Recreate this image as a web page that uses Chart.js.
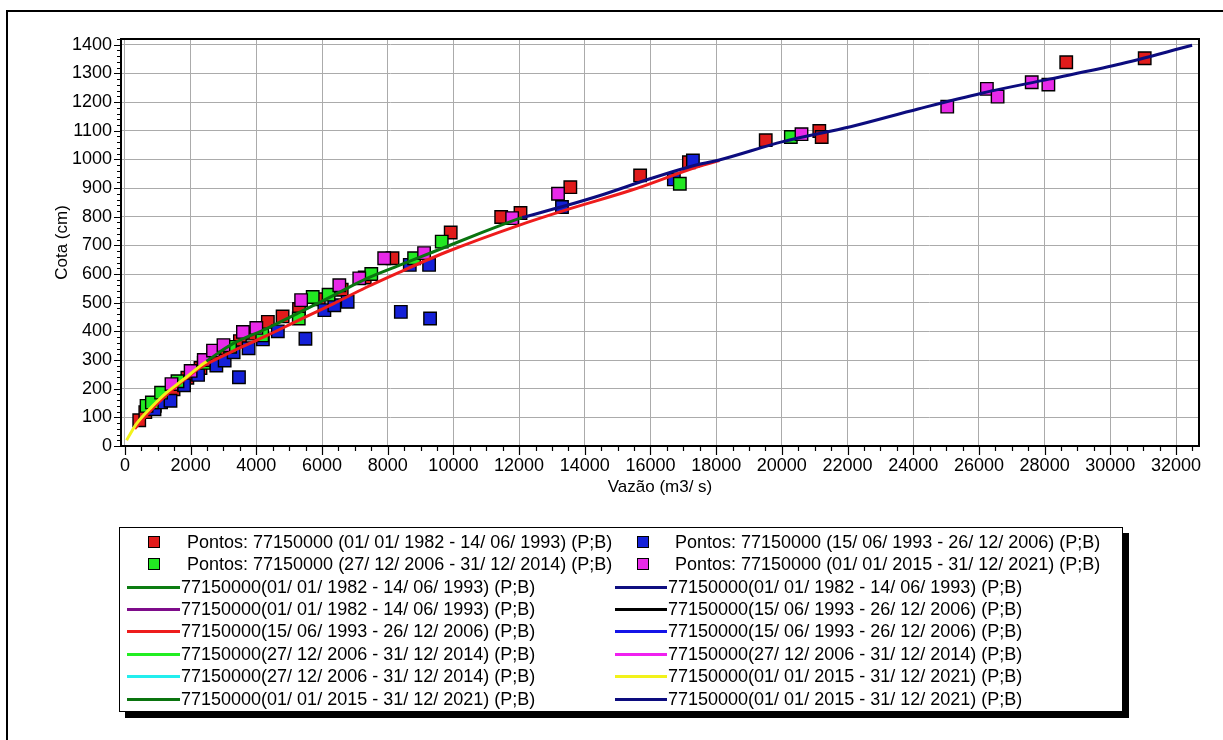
<!DOCTYPE html>
<html lang="pt">
<head>
    <meta charset="UTF-8">
    <meta name="viewport" content="width=device-width, initial-scale=1.0">
    <title>Curva-chave 77150000</title>
    <style>
        html, body { margin: 0; padding: 0; background: #fff; }
        body {
            width: 1223px; height: 740px; position: relative; overflow: hidden;
            font-family: "Liberation Sans", Arial, sans-serif;
        }
        #frame {
            position: absolute; left: 6px; top: 10px; width: 1224px; height: 760px;
            border: 2px solid #000; box-sizing: border-box;
        }
        #chartBox { position: absolute; left: 0; top: 0; width: 1223px; height: 740px; }
        #legend {
            position: absolute; left: 119px; top: 527px; width: 1004px; height: 185px;
            border: 1px solid #000; box-sizing: border-box; background: #fff;
            box-shadow: 6px 6px 0 0 #000;
        }
        .item { position: absolute; height: 20px; }
        .txt { position: absolute; top: 0; font-size: 18px; line-height: 20px; white-space: pre; color: #000; }
        .sq { position: absolute; top: 4px; width: 10px; height: 10px; border: 1px solid #000; box-sizing: content-box; }
        .ln { position: absolute; top: 9px; height: 3px; }
    </style>
</head>
<body>

    <div id="frame"></div>
    <div id="chartBox">
        <canvas id="myChart"></canvas>
    </div>
    <div id="legend"></div>

    <script src="https://cdn.jsdelivr.net/npm/chart.js@4.4.1/dist/chart.umd.min.js"></script>

    <script>

        // tick labels
        var xTicks = [0, 2000, 4000, 6000, 8000, 10000, 12000, 14000, 16000, 18000, 20000,
                      22000, 24000, 26000, 28000, 30000, 32000];
        var yTicks = [0, 100, 200, 300, 400, 500, 600, 700, 800, 900, 1000, 1100, 1200, 1300, 1400];
        var xMinorStep = 500;
        var yMinorStep = 20;

        // medições [vazão, cota]
        var pontos1982 = [[435,90],[620,118],[911,140],[1150,172],[1480,198],[1900,238],[2300,272],
            [2700,306],[3100,336],[3500,366],[3900,392],[4351,433],[4800,452],[5300,478],[5900,512],
            [6600,545],[7300,588],[8146,655],[9918,745],[11455,799],[12043,813],[13560,903],
            [15685,944],[17170,990],[19509,1067],[21140,1099],[21213,1078],[28658,1339],[31047,1353]];
        var pontos1993 = [[900,128],[1100,152],[1387,158],[1800,212],[2226,248],[2783,281],[3036,298],
            [3309,327],[3471,240],[3765,341],[4200,372],[4655,400],[5495,374],[6072,474],[6375,491],
            [6780,503],[8400,468],[8672,632],[9260,632],[9290,445],[13306,834],[16712,930],[17292,996]];
        var pontos2006 = [[658,140],[820,152],[1100,186],[1600,226],[2400,290],[3200,346],[4180,386],
            [5292,445],[5717,520],[6200,528],[7500,600],[8804,655],[9645,713],[16894,915],[20273,1078]];
        var pontos2015 = [[1417,216],[2000,262],[2400,300],[2681,333],[3000,352],[3592,398],[4000,412],
            [5364,509],[6527,561],[7134,585],[7893,655],[9107,673],[11788,795],[13185,880],[20598,1088],
            [25035,1184],[26242,1246],[26568,1219],[27607,1269],[28114,1261]];

        // curvas-chave [vazão, cota]
        var curva1993b = [[300,60],[800,126],[1300,182],[1800,230],[2277,272],[3288,331],[4300,384],
            [5313,440],[6324,495],[7337,553],[8349,606],[9766,676],[11991,770],[13409,823],
            [15432,893],[17456,975],[18100,996]];
        var curva2015a = [[50,20],[200,50],[355,78],[550,105],[760,130],[1000,158],[1266,186],
            [1500,207],[1800,234],[2000,252],[2277,278],[2500,296]];
        var curva2015b = [[2479,296],[3288,357],[4300,409],[5313,466],[6324,524],[7337,583],
            [8349,630],[9360,676],[10878,745],[11991,793],[12093,797]];
        var curva2015c = [[12093,797],[13409,838],[14464,874],[16038,934],[17456,982],[18094,998],
            [20031,1062],[22089,1114],[24147,1176],[26084,1231],[28140,1280],[30198,1330],[32490,1398]];

        function xy(arr) {
            return arr.map(function (p) { return { x: p[0], y: p[1] }; });
        }

        function pts(label, color, data) {
            return {
                label: label, data: xy(data), kind: 'point',
                pointStyle: 'rect', pointRadius: 8.8, pointHoverRadius: 8.8,
                backgroundColor: color, borderColor: '#000', borderWidth: 1.4, showLine: false
            };
        }

        function line(label, color, data) {
            return {
                label: label, data: xy(data), kind: 'line',
                showLine: true, borderColor: color, backgroundColor: color, borderWidth: 3,
                pointRadius: 0, cubicInterpolationMode: 'monotone'
            };
        }

        var datasets = [
            pts('Pontos: 77150000 (01/ 01/ 1982 - 14/ 06/ 1993) (P;B)', '#e01b1b', pontos1982),
            pts('Pontos: 77150000 (15/ 06/ 1993 - 26/ 12/ 2006) (P;B)', '#1420d8', pontos1993),
            pts('Pontos: 77150000 (27/ 12/ 2006 - 31/ 12/ 2014) (P;B)', '#22e822', pontos2006),
            pts('Pontos: 77150000 (01/ 01/ 2015 - 31/ 12/ 2021) (P;B)', '#e82ae8', pontos2015),
            line('77150000(01/ 01/ 1982 - 14/ 06/ 1993) (P;B)', '#0c7c12', []),
            line('77150000(01/ 01/ 1982 - 14/ 06/ 1993) (P;B)', '#0e0e80', []),
            line('77150000(01/ 01/ 1982 - 14/ 06/ 1993) (P;B)', '#7e0c8a', []),
            line('77150000(15/ 06/ 1993 - 26/ 12/ 2006) (P;B)', '#000000', []),
            line('77150000(15/ 06/ 1993 - 26/ 12/ 2006) (P;B)', '#ee1c1c', curva1993b),
            line('77150000(15/ 06/ 1993 - 26/ 12/ 2006) (P;B)', '#1414e8', []),
            line('77150000(27/ 12/ 2006 - 31/ 12/ 2014) (P;B)', '#22ee22', []),
            line('77150000(27/ 12/ 2006 - 31/ 12/ 2014) (P;B)', '#f020f0', []),
            line('77150000(27/ 12/ 2006 - 31/ 12/ 2014) (P;B)', '#22eeee', []),
            line('77150000(01/ 01/ 2015 - 31/ 12/ 2021) (P;B)', '#f2f21a', curva2015a),
            line('77150000(01/ 01/ 2015 - 31/ 12/ 2021) (P;B)', '#0a740f', curva2015b),
            line('77150000(01/ 01/ 2015 - 31/ 12/ 2021) (P;B)', '#0c0c7e', curva2015c)
        ];
        // later datasets on top
        datasets.forEach(function (ds, i) { ds.order = datasets.length - i; });

        // frame of the plot and minor / major tick marks
        var axisPlugin = {
            id: 'axisPlugin',
            afterDraw: function (chart) {
                var ctx = chart.ctx, a = chart.chartArea;
                var x = chart.scales.x, y = chart.scales.y;
                ctx.save();
                ctx.strokeStyle = '#000';
                ctx.lineWidth = 1.2;
                ctx.beginPath();
                for (var v = 0; v <= x.max; v += xMinorStep) {
                    var px = Math.round(x.getPixelForValue(v)) + 0.5;
                    var len = (v % 2000 === 0) ? 9 : 5;
                    ctx.moveTo(px, a.bottom);
                    ctx.lineTo(px, a.bottom + len);
                }
                for (var w = 0; w <= y.max; w += yMinorStep) {
                    var py = Math.round(y.getPixelForValue(w)) + 0.5;
                    var l2 = (w % 100 === 0) ? 7 : 4;
                    ctx.moveTo(a.left - l2, py);
                    ctx.lineTo(a.left, py);
                }
                ctx.stroke();
                ctx.lineWidth = 2;
                ctx.strokeRect(a.left, a.top, a.right - a.left, a.bottom - a.top);
                ctx.restore();
            }
        };

        function plain(value) { return String(value); }

        Chart.defaults.font.family = '"Liberation Sans", Arial, sans-serif';
        Chart.defaults.color = '#000';

        var ctx = document.getElementById("myChart").getContext("2d");
        var myChart = new Chart(ctx,
        {
            type: 'scatter',
            data: { datasets: datasets },
            options: {
                responsive: true,
                maintainAspectRatio: false,
                animation: false,
                layout: { padding: { left: 7, top: 39, right: 24, bottom: 234 } },
                plugins: {
                    legend: { display: false },
                    tooltip: { enabled: false }
                },
                scales: {
                    x: {
                        type: 'linear', min: -120, max: 32700,
                        afterFit: function (s) { s.height = 60; },
                        afterBuildTicks: function (s) { s.ticks = xTicks.map(function (v) { return { value: v }; }); },
                        ticks: { autoSkip: false, maxRotation: 0, padding: 9, font: { size: 18 }, callback: plain },
                        grid: { color: '#ababab', lineWidth: 1, drawTicks: false },
                        border: { display: false },
                        title: { display: true, text: 'Vazão (m3/ s)', font: { size: 17 }, padding: { top: 0, bottom: 8 } }
                    },
                    y: {
                        type: 'linear', min: 0, max: 1420,
                        afterFit: function (s) { s.width = 114; },
                        afterBuildTicks: function (s) { s.ticks = yTicks.map(function (v) { return { value: v }; }); },
                        ticks: { autoSkip: false, padding: 9, font: { size: 18 }, callback: plain },
                        grid: { color: '#ababab', lineWidth: 1, drawTicks: false },
                        border: { display: false },
                        title: { display: true, text: 'Cota (cm)', font: { size: 17 }, padding: { top: 45, bottom: 0 } }
                    }
                }
            },
            plugins: [axisPlugin]
        });

        // legend in two columns, built from the datasets
        function buildLegend(chart) {
            var box = document.getElementById('legend');
            chart.data.datasets.forEach(function (ds, i) {
                var row = Math.floor(i / 2), col = i % 2;
                var item = document.createElement('div');
                item.className = 'item';
                item.style.top = (541.7 - 528 - 10 + row * 22.4) + 'px';
                item.style.left = '0px';
                var txt = document.createElement('span');
                txt.className = 'txt';
                txt.textContent = ds.label;
                if (ds.kind === 'point') {
                    var sq = document.createElement('span');
                    sq.className = 'sq';
                    sq.style.left = (col ? 516.5 : 28.3) + 'px';
                    sq.style.background = ds.backgroundColor;
                    item.appendChild(sq);
                    txt.style.left = (col ? 555 : 67) + 'px';
                } else {
                    var ln = document.createElement('span');
                    ln.className = 'ln';
                    ln.style.left = (col ? 495 : 7) + 'px';
                    ln.style.width = (col ? 52 : 53) + 'px';
                    ln.style.background = ds.borderColor;
                    item.appendChild(ln);
                    txt.style.left = (col ? 548 : 61) + 'px';
                }
                item.appendChild(txt);
                box.appendChild(item);
            });
        }
        buildLegend(myChart);

    </script>

</body>
</html>
